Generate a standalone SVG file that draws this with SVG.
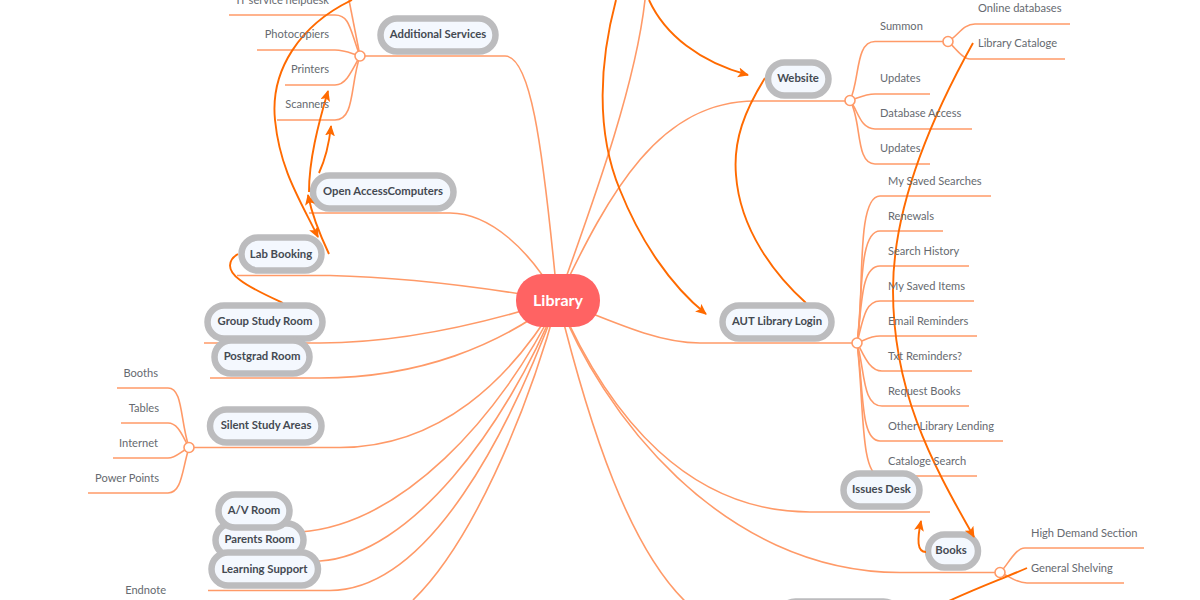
<svg xmlns="http://www.w3.org/2000/svg" width="1200" height="600" viewBox="0 0 1200 600">
<style>
.c{fill:none;stroke:#ff9a68;stroke-width:1.6}
.r{fill:none;stroke:#ff6a00;stroke-width:1.9}
.a{marker-end:url(#arr)}
.j{fill:#fff;stroke:#ff9a68;stroke-width:1.6}
.n rect{fill:#f4f8fe;stroke:#bcbcbe;stroke-width:6.5}
.n text{font:700 11.300px Lato,"Noto Sans",sans-serif;fill:#444a52;text-anchor:middle;dominant-baseline:central}
.t{font:400 11.100px Lato,"Noto Sans",sans-serif;fill:#666a70;dominant-baseline:central}
.e{text-anchor:end}
</style>
<defs>
<marker id="arr" markerUnits="userSpaceOnUse" markerWidth="13" markerHeight="12" refX="10" refY="5" orient="auto">
<path d="M0 0L11 5L0 10L2.5 5Z" fill="#ff6a00"/>
</marker>
</defs>
<rect width="1200" height="600" fill="#fff"/>
<g id="connectors">
<path class="c" d="M360 56H505C530 56 542 140 556 285"/>
<path class="c" d="M309 213H450C490 213 530 250 558 300"/>
<path class="c" d="M237 275.500H330C400 277 470 285 558 300"/>
<path class="c" d="M204 343H320C400 343 480 325 558 300"/>
<path class="c" d="M210 378H320C420 378 500 345 558 300"/>
<path class="c" d="M189 447.500H340C440 447 510 380 558 300"/>
<path class="c" d="M215 532H300C400 525 500 420 558 300"/>
<path class="c" d="M212 561H320C410 555 505 430 558 300"/>
<path class="c" d="M208 590.500H330C430 590 510 430 558 300"/>
<path class="c" d="M413 600C470 545 525 420 558 300"/>
<path class="c" d="M558 300C610 190 660 101 755 101H850"/>
<path class="c" d="M558 300C590 210 635 90 645 0"/>
<path class="c" d="M558 300C620 325 660 343 700 343H857"/>
<path class="c" d="M558 300C610 420 690 512 810 512H930"/>
<path class="c" d="M558 300C600 410 720 572 900 572.500H1000"/>
<path class="c" d="M558 300C590 430 630 550 688 604"/>
<path class="c" d="M229 15H335C350 15 350 30 360 56"/>
<path class="c" d="M257 50H335C345 50 350 53 360 56"/>
<path class="c" d="M285 85H335C345 85 350 75 360 56"/>
<path class="c" d="M277 120H335C355 120 350 85 360 56"/>
<path class="c" d="M360 56C355 30 352 15 349 0"/>
<path class="c" d="M117 388H168C183 388 180 420 189 447.500"/>
<path class="c" d="M121 423H168C178 423 182 435 189 447.500"/>
<path class="c" d="M113 458H168C176 458 180 452 189 447.500"/>
<path class="c" d="M88 493H168C182 493 182 470 189 447.500"/>
<path class="c" d="M850 100.500C860 80 855 41.500 875 41.500H948"/>
<path class="c" d="M850 100.500C858 98 865 94 875 94H930"/>
<path class="c" d="M850 100.500C858 110 860 129 875 129H972"/>
<path class="c" d="M850 100.500C862 120 855 164 875 164H930"/>
<path class="c" d="M948 41.500C958 36 963 24 975 24H1070"/>
<path class="c" d="M948 41.500C955 47 962 59 970 59H1065"/>
<path class="c" d="M857 343C865 300 855 196 880 196H991"/>
<path class="c" d="M857 343C863 300 858 231 880 231H943"/>
<path class="c" d="M857 343C862 310 860 266 880 266H969"/>
<path class="c" d="M857 343C863 320 865 301 880 301H974"/>
<path class="c" d="M857 343C865 340 870 336 880 336H977"/>
<path class="c" d="M857 343C862 350 868 371 882 371H972"/>
<path class="c" d="M857 343C865 370 862 406 882 406H969"/>
<path class="c" d="M857 343C864 390 860 441 880 441H1003"/>
<path class="c" d="M857 343C864 400 860 476 880 476H977"/>
<path class="c" d="M1000 572.500C1008 565 1015 548 1025 548H1144"/>
<path class="c" d="M1000 572.500C1008 575 1015 583 1027 583H1124"/>
<path class="r" d="M238 254C228 260 226 270 240 280C250 288 270 297 283 303"/>
<path class="r" d="M765 78C745 110 733 140 736 175C740 230 775 275 806 303"/>
<path class="r" d="M1027 568C1000 580 970 590 930 610"/>
</g>
<g id="additional-services" class="n"><rect x="380.500" y="18.500" width="115" height="33" rx="16.500"/><text x="438" y="33.500">Additional Services</text></g>
<g id="open-access" class="n"><rect x="313" y="175.500" width="140.500" height="33" rx="16.500"/><text x="383" y="190.500">Open AccessComputers</text></g>
<g id="lab-booking" class="n"><rect x="241.500" y="237.500" width="80" height="33" rx="16.500"/><text x="281" y="253">Lab Booking</text></g>
<g id="group-study" class="n"><rect x="207.500" y="305.500" width="115" height="33" rx="16.500"/><text x="265" y="320.500">Group Study Room</text></g>
<g id="postgrad" class="n"><rect x="214.500" y="340.500" width="95" height="33" rx="16.500"/><text x="262" y="355.500">Postgrad Room</text></g>
<g id="silent-study" class="n"><rect x="210" y="409.500" width="111.500" height="33" rx="16.500"/><text x="266" y="424.500">Silent Study Areas</text></g>
<g id="parents-room" class="n"><rect x="215.500" y="523.500" width="88" height="33" rx="16.500"/><text x="259.500" y="538.500">Parents Room</text></g>
<g id="av-room" class="n"><rect x="218.500" y="494.500" width="71" height="33" rx="16.500"/><text x="254" y="509.500">A/V Room</text></g>
<g id="learning-support" class="n"><rect x="211.500" y="552.500" width="106.500" height="33" rx="16.500"/><text x="264.500" y="568">Learning Support</text></g>
<g id="website" class="n"><rect x="768" y="62.500" width="60.500" height="33" rx="16.500"/><text x="798" y="77.500">Website</text></g>
<g id="aut-login" class="n"><rect x="722.500" y="305.500" width="109" height="33" rx="16.500"/><text x="777" y="320.500">AUT Library Login</text></g>
<g id="issues-desk" class="n"><rect x="843.500" y="473.500" width="76" height="33" rx="16.500"/><text x="881.500" y="488.500">Issues Desk</text></g>
<g id="books" class="n"><rect x="928" y="534.500" width="50" height="33" rx="16.500"/><text x="951" y="549.500">Books</text></g>
<g id="bottom-node" class="n"><rect x="779" y="601.500" width="121" height="33" rx="16.500"/></g>
<g id="relations">
<path class="r a" d="M352 0C300 25 270 70 275 120C280 170 300 200 318 237"/>
<path class="r a" d="M329 254C320 235 312 215 308 195"/>
<path class="r a" d="M309 192C309 160 318 125 328 91"/>
<path class="r a" d="M319 173C325 160 329 145 331 126"/>
<path class="r a" d="M649 0C665 35 700 62 748 75"/>
<path class="r a" d="M616 0C600 60 595 130 620 190C640 240 670 285 706 314"/>
<path class="r a" d="M973 43C930 120 893 210 893 290C893 390 930 460 974 537"/>
<path class="r a" d="M926 552C917 552 917 540 921 521"/>
</g>
<g id="library"><rect x="516" y="274" width="84" height="53" rx="26" fill="#ff6363"/><text x="558" y="299" font-family="Lato,'Noto Sans',sans-serif" font-size="16" font-weight="700" fill="#fff" text-anchor="middle" dominant-baseline="central">Library</text></g>
<g id="junctions">
<circle class="j" cx="360" cy="56" r="5"/><circle class="j" cx="189" cy="447.500" r="5"/><circle class="j" cx="850" cy="100.500" r="5"/><circle class="j" cx="948" cy="41.500" r="5"/><circle class="j" cx="857" cy="343" r="5"/><circle class="j" cx="1000" cy="572.500" r="5"/>
</g>
<g id="labels">
<text class="t e" x="329" y="-1">IT service helpdesk</text>
<text class="t e" x="329" y="33.500">Photocopiers</text>
<text class="t e" x="329" y="68.500">Printers</text>
<text class="t e" x="329" y="103.500">Scanners</text>
<text class="t e" x="158" y="372.500">Booths</text>
<text class="t e" x="159" y="407.500">Tables</text>
<text class="t e" x="158" y="442.500">Internet</text>
<text class="t e" x="159" y="477.500">Power Points</text>
<text class="t e" x="166" y="589.500">Endnote</text>
<text class="t" x="880" y="25.500">Summon</text>
<text class="t" x="880" y="77.500">Updates</text>
<text class="t" x="880" y="112.500">Database Access</text>
<text class="t" x="880" y="147.500">Updates</text>
<text class="t" x="978" y="7.500">Online databases</text>
<text class="t" x="978" y="42.500">Library Cataloge</text>
<text class="t" x="888" y="180.500">My Saved Searches</text>
<text class="t" x="888" y="215.500">Renewals</text>
<text class="t" x="888" y="250.500">Search History</text>
<text class="t" x="888" y="285.500">My Saved Items</text>
<text class="t" x="888" y="320.500">Email Reminders</text>
<text class="t" x="888" y="355.500">Txt Reminders?</text>
<text class="t" x="888" y="390.500">Request Books</text>
<text class="t" x="888" y="425.500">Other Library Lending</text>
<text class="t" x="888" y="460.500">Cataloge Search</text>
<text class="t" x="1031" y="532.500">High Demand Section</text>
<text class="t" x="1031" y="567.500">General Shelving</text>
</g>
</svg>
